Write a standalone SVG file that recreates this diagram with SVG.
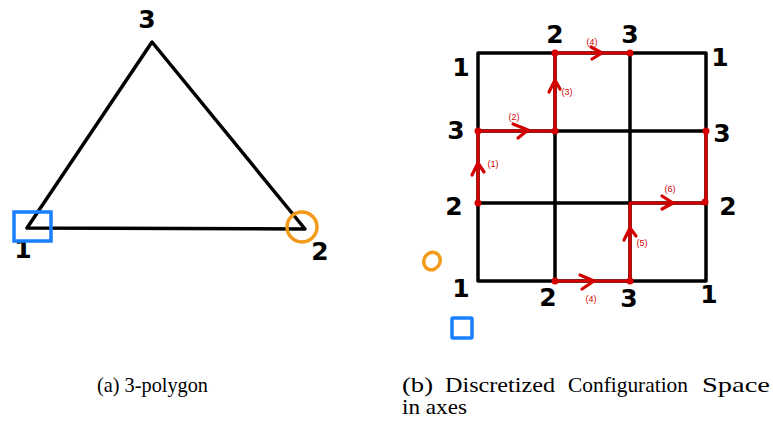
<svg xmlns="http://www.w3.org/2000/svg" width="773" height="425" viewBox="0 0 773 425">
<style>
.blk{fill:none;stroke:#000;stroke-width:3.5;stroke-linecap:round;stroke-linejoin:round}
.red{fill:none;stroke:#d40000;stroke-width:3.2;stroke-linecap:round;stroke-linejoin:round}
.dot{fill:#d40000}
.num{font-family:"DejaVu Sans",sans-serif;font-weight:bold;font-size:25px;fill:#000;text-anchor:middle}
.lab{font-family:"Liberation Sans",sans-serif;font-size:9px;fill:#d40000;text-anchor:middle}
.cap{font-family:"Liberation Serif",serif;font-size:21px;fill:#000}
</style>
<rect width="773" height="425" fill="#fff"/>
<g id="triangle">
<polygon class="blk" points="152,42 27,228 305,229"/>
<text class="num" x="147" y="28">3</text>
<text class="num" x="23" y="258">1</text>
<text class="num" x="320" y="260">2</text>
<rect x="14" y="212" width="37" height="29" fill="none" stroke="#1a7fff" stroke-width="3.5"/>
<circle cx="302" cy="227" r="15" fill="none" stroke="#f29a1a" stroke-width="3.5"/>
</g>
<g id="grid">
<rect class="blk" x="478" y="53" width="228" height="228"/>
<line class="blk" x1="555" y1="53" x2="555" y2="281"/>
<line class="blk" x1="630" y1="53" x2="630" y2="281"/>
<line class="blk" x1="478" y1="131" x2="706" y2="131"/>
<line class="blk" x1="478" y1="203" x2="706" y2="203"/>
</g>
<g id="axis-labels">
<text class="num" x="461" y="76">1</text>
<text class="num" x="555" y="43">2</text>
<text class="num" x="630" y="43">3</text>
<text class="num" x="720" y="66">1</text>
<text class="num" x="456" y="139">3</text>
<text class="num" x="722" y="142">3</text>
<text class="num" x="454" y="215">2</text>
<text class="num" x="728" y="215">2</text>
<text class="num" x="461" y="297">1</text>
<text class="num" x="548" y="306">2</text>
<text class="num" x="629" y="307">3</text>
<text class="num" x="709" y="303">1</text>
<ellipse cx="432" cy="261" rx="8" ry="9" transform="rotate(25 432 261)" fill="none" stroke="#f29a1a" stroke-width="3.5"/>
<rect x="452" y="318" width="20" height="20" rx="1" fill="none" stroke="#1a7fff" stroke-width="3.5"/>
</g>
<g id="connectors">
<polyline class="red" points="478,203 478,131 555,131 555,53 630,53"/>
<polyline class="red" points="555,281 630,281 630,203 706,203 706,131"/>
<polyline class="red" points="472,175 478,163 484,172"/>
<polyline class="red" points="513,124 528,130 518,138"/>
<polyline class="red" points="549,92 555,80 560,89"/>
<polyline class="red" points="591,47 602,53 592,59"/>
<polyline class="red" points="580,275 594,281 582,289"/>
<polyline class="red" points="624,240 630,228 636,236"/>
<polyline class="red" points="662,196 673,203 662,209"/>
<circle class="dot" cx="478" cy="203" r="3.5"/>
<circle class="dot" cx="478" cy="131" r="3.5"/>
<circle class="dot" cx="555" cy="131" r="3.5"/>
<circle class="dot" cx="555" cy="53" r="3.5"/>
<circle class="dot" cx="630" cy="53" r="3.5"/>
<circle class="dot" cx="555" cy="281" r="3.5"/>
<circle class="dot" cx="630" cy="281" r="3.5"/>
<circle class="dot" cx="706" cy="131" r="3.5"/>
<circle class="dot" cx="705" cy="202" r="3.5"/>
<text class="lab" x="493" y="167">(1)</text>
<text class="lab" x="514" y="120">(2)</text>
<text class="lab" x="567" y="95">(3)</text>
<text class="lab" x="592" y="45">(4)</text>
<text class="lab" x="591" y="302">(4)</text>
<text class="lab" x="642" y="246">(5)</text>
<text class="lab" x="670" y="192">(6)</text>
</g>
<g id="captions">
<text class="cap" x="97" y="392" textLength="111" lengthAdjust="spacingAndGlyphs">(a) 3-polygon</text>
<text class="cap" x="402" y="392" textLength="31" lengthAdjust="spacingAndGlyphs">(b)</text>
<text class="cap" x="445" y="392" textLength="110" lengthAdjust="spacingAndGlyphs">Discretized</text>
<text class="cap" x="568" y="392" textLength="120" lengthAdjust="spacingAndGlyphs">Configuration</text>
<text class="cap" x="702" y="392" textLength="68" lengthAdjust="spacingAndGlyphs">Space</text>
<text class="cap" x="402" y="414" textLength="65" lengthAdjust="spacingAndGlyphs">in axes</text>
</g>
</svg>
